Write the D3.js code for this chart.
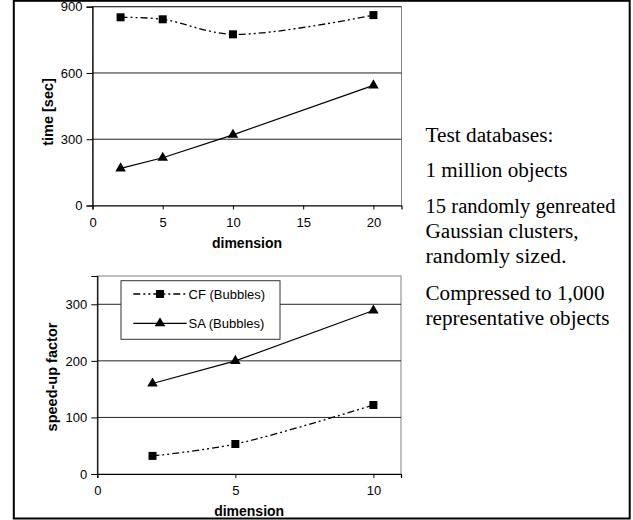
<!DOCTYPE html>
<html><head><meta charset="utf-8">
<script src="https://cdn.jsdelivr.net/npm/d3@7"></script>
<style>
html,body{margin:0;padding:0;background:#fff;}
svg{display:block;}
</style></head>
<body>
<svg id="chart" width="633" height="520"></svg>
<script>
// ---- data ----
const dimsTop = [2, 5, 10, 20];
const cfTime = [852, 843, 775, 862];
const saTime = [168, 216, 320, 544];
const dimsBottom = [2, 5, 10];
const cfSpeed = [32, 53, 122];
const saSpeed = [160, 200, 289];
const yTicksTop = [0, 300, 600, 900];
const xTicksTop = [0, 5, 10, 15, 20];
const yTicksBottom = [0, 100, 200, 300];
const xTicksBottom = [0, 5, 10];
const seriesNames = ["CF (Bubbles)", "SA (Bubbles)"];
const noteLines = ["Test databases:", "1 million objects", "15 randomly genreated", "Gaussian clusters,", "randomly sized.", "Compressed to 1,000", "representative objects"];

const svg = d3.select("#chart");
const SANS = "'Liberation Sans', Arial, sans-serif";
const SERIF = "'Times New Roman', 'Liberation Serif', serif";
const CFDASH = "7,3,2,3,2,3";

// outer frame
svg.append("rect").attr("x", 13.8).attr("y", 0.8).attr("width", 615.9).attr("height", 517.7)
  .attr("fill", "none").attr("stroke", "#000").attr("stroke-width", 2);

function panel(cfg) {
  const x = d3.scaleLinear().domain(cfg.xDomain).range(cfg.xRange);
  const y = d3.scaleLinear().domain(cfg.yDomain).range(cfg.yRange);
  const g = svg.append("g");
  const [x0, x1] = cfg.xRange, [y0, y1] = cfg.yRange;
  g.append("rect").attr("x", x0).attr("y", y1).attr("width", x1 - x0).attr("height", y0 - y1)
    .attr("fill", "#fff").attr("stroke", "#808080").attr("stroke-width", 1);
  g.selectAll(".grid").data(cfg.yTicks.filter(d => d > 0)).join("line")
    .attr("x1", x0).attr("x2", x1).attr("y1", d => y(d)).attr("y2", d => y(d))
    .attr("stroke", "#222").attr("stroke-width", 1);
  const ya = g.append("g").attr("transform", `translate(${x0},0)`)
    .call(d3.axisLeft(y).tickValues(cfg.yTicks).tickSize(6).tickPadding(4).tickFormat(d3.format("d")));
  const xa = g.append("g").attr("transform", `translate(0,${y0})`)
    .call(d3.axisBottom(x).tickValues(cfg.xTicks).tickSize(4).tickPadding(cfg.xPad).tickFormat(d3.format("d")));
  [ya, xa].forEach(a => {
    a.select(".domain").attr("stroke", "#000").attr("stroke-width", 1.2);
    a.selectAll(".tick line").attr("stroke", "#000");
    a.selectAll("text").attr("font-family", SANS).attr("font-size", 13).attr("fill", "#000");
  });
  g.append("text").attr("x", (x0 + x1) / 2).attr("y", cfg.xTitleY).attr("text-anchor", "middle")
    .attr("font-family", SANS).attr("font-size", 14).attr("font-weight", "bold").text("dimension");
  g.append("text").attr("transform", `translate(${cfg.yTitleX},${cfg.yTitleCY}) rotate(-90)`)
    .attr("text-anchor", "middle").attr("dominant-baseline", "central")
    .attr("font-family", SANS).attr("font-size", 14.5).attr("font-weight", "bold").text(cfg.yTitle);

  const cfPts = cfg.dims.map((d, i) => [x(d), y(cfg.cf[i])]);
  g.append("path").attr("d", d3.line().curve(d3.curveCatmullRom.alpha(0.5))(cfPts))
    .attr("fill", "none").attr("stroke", "#000").attr("stroke-width", 1.3).attr("stroke-dasharray", CFDASH);
  const saPts = cfg.dims.map((d, i) => [x(d), y(cfg.sa[i])]);
  g.append("path").attr("d", d3.line()(saPts))
    .attr("fill", "none").attr("stroke", "#000").attr("stroke-width", 1.2);
  const sq = d3.symbol().type(d3.symbolSquare).size(64);
  const tri = d3.symbol().type(d3.symbolTriangle).size(48);
  g.selectAll(".cfm").data(cfPts).join("path").attr("d", sq)
    .attr("transform", d => `translate(${d[0]},${d[1]})`).attr("fill", "#000");
  g.selectAll(".sam").data(saPts).join("path").attr("d", tri)
    .attr("transform", d => `translate(${d[0]},${d[1]})`).attr("fill", "#000");
  return {x, y, g, sq, tri};
}

panel({
  xDomain: [0, 22], xRange: [92.5, 401.5], yDomain: [0, 900], yRange: [205.5, 6.7],
  yTicks: yTicksTop, xTicks: xTicksTop, xPad: 8, xTitleY: 248, yTitle: "time [sec]",
  yTitleX: 47.5, yTitleCY: 112, dims: dimsTop, cf: cfTime, sa: saTime
});

const bottom = panel({
  xDomain: [0, 11], xRange: [97.3, 401], yDomain: [0, 350], yRange: [474, 276],
  yTicks: yTicksBottom, xTicks: xTicksBottom, xPad: 8, xTitleY: 516, yTitle: "speed-up factor",
  yTitleX: 51.5, yTitleCY: 377, dims: dimsBottom, cf: cfSpeed, sa: saSpeed
});

// legend
const lg = svg.append("g");
lg.append("rect").attr("x", 121).attr("y", 280.7).attr("width", 159).attr("height", 58.6)
  .attr("fill", "#fff").attr("stroke", "#333").attr("stroke-width", 1);
const rows = [294, 323.3];
seriesNames.forEach((name, i) => {
  const yy = rows[i];
  lg.append("line").attr("x1", 133.3).attr("x2", 186.7).attr("y1", yy).attr("y2", yy)
    .attr("stroke", "#000").attr("stroke-width", 1.3)
    .attr("stroke-dasharray", i === 0 ? CFDASH : null);
  lg.append("path").attr("d", i === 0 ? bottom.sq : bottom.tri)
    .attr("transform", `translate(160,${yy})`).attr("fill", "#000");
  lg.append("text").attr("x", 188.5).attr("y", yy).attr("dominant-baseline", "central")
    .attr("font-family", SANS).attr("font-size", 13).text(name);
});

// notes
const noteY = [142, 177, 213, 238, 263, 300, 325];
const noteW = [128, 142, 190, 153, 141, 179, 184];
svg.append("g").selectAll("text").data(noteLines).join("text")
  .attr("x", 425.5).attr("y", (d, i) => noteY[i])
  .attr("font-family", SERIF).attr("font-size", 20).attr("fill", "#000")
  .attr("textLength", (d, i) => noteW[i]).attr("lengthAdjust", "spacingAndGlyphs")
  .text(d => d);
</script>
</body></html>
